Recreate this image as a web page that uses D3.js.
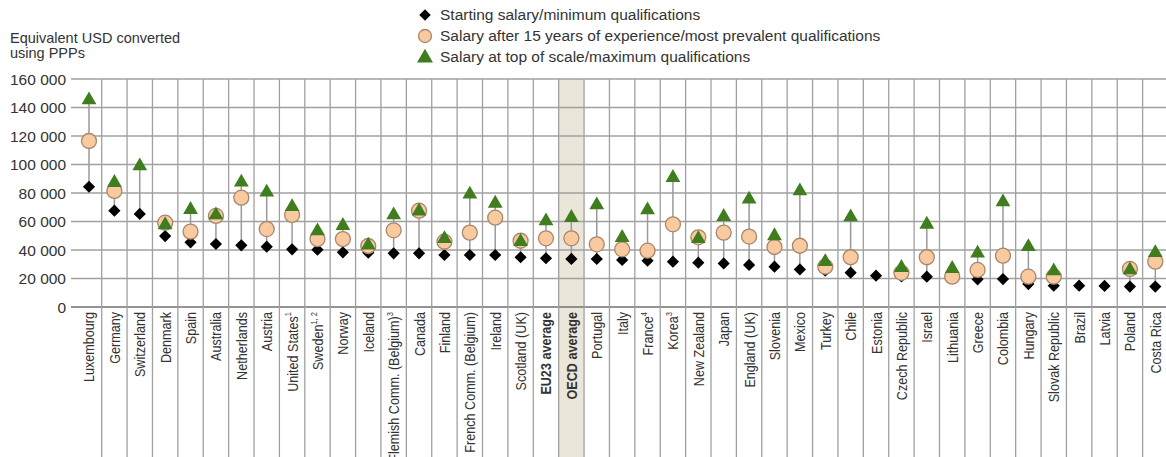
<!DOCTYPE html>
<html><head><meta charset="utf-8">
<script src="https://cdn.jsdelivr.net/npm/d3@7"></script>
<style>body{margin:0;background:#fff;} svg{display:block;}</style>
</head><body>
<svg id="c" width="1166" height="457"></svg>
<script>
const categories = ["Luxembourg","Germany","Switzerland","Denmark","Spain","Australia","Netherlands","Austria","United States|1","Sweden|1, 2","Norway","Iceland","Flemish Comm. (Belgium)|3","Canada","Finland","French Comm. (Belgium)","Ireland","Scotland (UK)","EU23 average","OECD average","Portugal","Italy","France|4","Korea|3","New Zealand","Japan","England (UK)","Slovenia","Mexico","Turkey","Chile","Estonia","Czech Republic","Israel","Lithuania","Greece","Colombia","Hungary","Slovak Republic","Brazil","Latvia","Poland","Costa Rica"];
const starting = [84400,67600,65300,49800,45400,44200,43300,42300,40500,40200,38400,38100,37700,37700,36500,36500,36500,34900,34200,33700,33700,33000,32500,31800,31100,30600,29500,28300,26400,25500,24100,22000,21500,21300,21000,19400,19600,16100,15000,15000,14800,14300,14300];
const after15 = [116500,81400,null,59200,52900,63900,76700,54700,64600,47700,47700,42800,53800,67600,45800,52200,62700,46500,48200,48200,44000,40500,39500,58000,48900,52200,49400,42100,43000,28300,34900,null,24000,34900,21300,26000,36000,21300,21300,null,null,26700,31800];
const topScale = [146000,88000,99600,58300,69000,65300,88200,81200,71100,54000,57800,44000,65300,68000,48600,79800,73400,46500,61000,63400,72300,49400,68800,91500,48600,64100,76300,50600,82100,32500,63900,null,28300,58700,27600,38400,74400,43000,26000,null,null,26700,38800];
const yTicks = [0,20000,40000,60000,80000,100000,120000,140000,160000];
const legendLabels = ["Starting salary/minimum qualifications","Salary after 15 years of experience/most prevalent qualifications","Salary at top of scale/maximum qualifications"];
const yTitle = ["Equivalent USD converted","using PPPs"];
const highlight = "OECD average";
const boldCats = ["EU23 average","OECD average"];

const svg = d3.select("#c");
const W = 1166, H = 457;
const x = d3.scaleBand().domain(categories).range([76.3, 1168]).padding(0);
const y = d3.scaleLinear().domain([0,160000]).range([307, 79]);
const font = "'Liberation Sans', Arial, sans-serif";
const gridCol = "#a0a0a0";

// highlight band
svg.append("rect").attr("x", x(highlight)).attr("y", y(160000)).attr("width", x.bandwidth()).attr("height", H - y(160000)).attr("fill", "#ebe6da");

// horizontal grid + y axis labels
const yAxis = d3.axisLeft(y).tickValues(yTicks).tickSize(0).tickPadding(0)
  .tickFormat(d => d3.format(",")(d).replace(/,/g, " "));
const gy = svg.append("g").attr("transform", "translate(66,0)").call(yAxis);
gy.select(".domain").remove();
gy.selectAll("text").attr("font-family", font).attr("font-size", 15.5).attr("fill", "#333").attr("dy", "0.35em");
svg.append("g").selectAll("line").data(yTicks).join("line")
  .attr("x1", 71).attr("x2", W).attr("y1", d => y(d)).attr("y2", d => y(d))
  .attr("stroke", d => d === 0 ? "#707070" : gridCol).attr("stroke-width", d => d === 0 ? 1.6 : 1.3);

// vertical grid at band boundaries
svg.append("g").selectAll("line").data(categories.slice(1)).join("line")
  .attr("x1", d => x(d)).attr("x2", d => x(d)).attr("y1", y(160000)).attr("y2", H)
  .attr("stroke", gridCol).attr("stroke-width", 1.3);

// y title
svg.append("text").attr("font-family", font).attr("font-size", 14.5).attr("fill", "#333")
  .selectAll("tspan").data(yTitle).join("tspan").attr("x", 10).attr("y", (d,i) => 43 + i*15).text(d => d);

// stems
const cx = d => x(d) + x.bandwidth()/2;
categories.forEach((c,i) => {
  const vals = [starting[i], after15[i], topScale[i]].filter(v => v != null);
  const lo = d3.min(vals), hi = d3.max(vals);
  if (hi > lo) svg.append("line").attr("x1", cx(c)).attr("x2", cx(c)).attr("y1", y(lo)).attr("y2", y(hi))
    .attr("stroke", "#9a9a9a").attr("stroke-width", 1.5);
});

const diamond = d3.symbol().type(d3.symbolDiamond2).size(95);
const tri = d3.symbol().type(d3.symbolTriangle).size(95);
const gM = svg.append("g");
gM.selectAll(".d").data(categories).join("path").attr("class","d")
  .attr("d", diamond).attr("transform", (c,i) => `translate(${cx(c)},${y(starting[i])})`).attr("fill", "#000");
gM.selectAll(".o").data(categories.filter((c,i) => after15[i] != null)).join("circle").attr("class","o")
  .attr("cx", cx).attr("cy", c => y(after15[categories.indexOf(c)])).attr("r", 7.5)
  .attr("fill", "#f9c9a0").attr("stroke", "#a8876a").attr("stroke-width", 1.3);
gM.selectAll(".t").data(categories.filter((c,i) => topScale[i] != null)).join("path").attr("class","t")
  .attr("d", tri).attr("transform", c => `translate(${cx(c)},${y(topScale[categories.indexOf(c)]) + 1})`).attr("fill", "#3f7d1f");

// x labels (condensed to mimic a narrow face)
const gx = svg.append("g");
categories.forEach(c => {
  const [name, sup] = c.split("|");
  const t = gx.append("text").attr("transform", `translate(${cx(c) + 5.5},312) rotate(-90) scale(0.84,1)`)
    .attr("text-anchor", "end").attr("font-family", font).attr("font-size", 15).attr("fill", "#333")
    .attr("font-weight", boldCats.includes(name) ? "bold" : "normal");
  t.append("tspan").text(name);
  if (sup) t.append("tspan").attr("font-size", 9).attr("dy", "-0.7em").text(sup);
});

// legend
const lg = svg.append("g");
const ly = [15, 36, 57];
lg.append("path").attr("d", d3.symbol().type(d3.symbolDiamond2).size(85)).attr("transform", `translate(425,${ly[0]})`).attr("fill", "#000");
lg.append("circle").attr("cx", 425).attr("cy", ly[1]).attr("r", 6.5).attr("fill", "#f9c9a0").attr("stroke", "#a8876a").attr("stroke-width", 1.3);
lg.append("path").attr("d", d3.symbol().type(d3.symbolTriangle).size(110)).attr("transform", `translate(425,${ly[2]+1})`).attr("fill", "#3f7d1f");
lg.selectAll("text").data(legendLabels).join("text").attr("x", 440).attr("y", (d,i) => ly[i]).attr("dy", "0.35em")
  .attr("font-family", font).attr("font-size", 15.5).attr("fill", "#333").text(d => d);
</script>
</body></html>
